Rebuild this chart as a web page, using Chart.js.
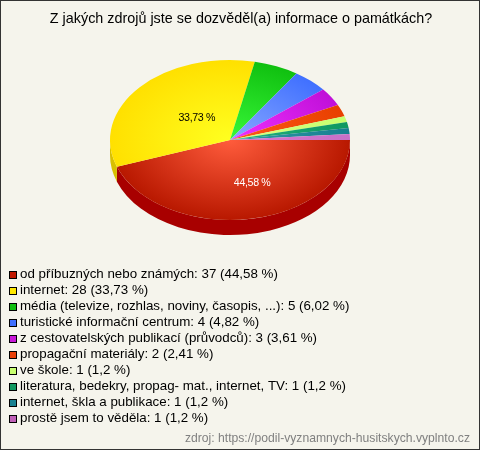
<!DOCTYPE html>
<html>
<head>
<meta charset="utf-8">
<title>Z jakých zdrojů</title>
<script src="https://cdn.jsdelivr.net/npm/chart.js@4"></script>
<style>
  html, body { margin: 0; padding: 0; background: #f5f4ec; }
  #chart { display: block; }
</style>
</head>
<body>
<canvas id="chart" width="480" height="450"></canvas>
<script>
const title = "Z jakých zdrojů jste se dozvěděl(a) informace o památkách?";
const source = "zdroj: https://podil-vyznamnych-husitskych.vyplnto.cz";

const categories = [
  "od příbuzných nebo známých",
  "internet",
  "média (televize, rozhlas, noviny, časopis, ...)",
  "turistické informační centrum",
  "z cestovatelských publikací (průvodců)",
  "propagační materiály",
  "ve škole",
  "literatura, bedekry, propag- mat., internet, TV",
  "internet, škla a publikace",
  "prostě jsem to věděla"
];
const counts = [37, 28, 5, 4, 3, 2, 1, 1, 1, 1];
const percents = ["44,58", "33,73", "6,02", "4,82", "3,61", "2,41", "1,2", "1,2", "1,2", "1,2"];

const legendColors = ["#c01800", "#ffe800", "#10c010", "#4070ff", "#c818d8", "#e84008", "#c8ff70", "#109860", "#188090", "#c060b8"];
const innerColors  = ["#ff5c3c", "#ffff20", "#38f838", "#88a8ff", "#f030ff", "#ff5818", "#d8ff80", "#20b080", "#3098a8", "#d878d0"];
const outerColors  = ["#b81800", "#ffe000", "#10c010", "#4070ff", "#c010d8", "#e84000", "#c8ff70", "#109860", "#188090", "#c870c8"];
const wallColors   = ["#a80000", "#d8c000", "#089008", "#3050c0", "#9010a0", "#b03000", "#98c050", "#087048", "#106070", "#905090"];

// pie is drawn as a circle by Chart.js, this squashes it into an ellipse
const SQUASH = 2 / 3;
const DEPTH = 15;

// slices that get a value label
const labelled = [
  { index: 0, color: "#ffffff" },
  { index: 1, color: "#000000" }
];

function squash(ctx, el) {
  ctx.translate(el.x, el.y);
  ctx.scale(1, SQUASH);
  ctx.translate(-el.x, -el.y);
}

const tiltPlugin = {
  id: "tilt",
  beforeDraw(chart) {
    const ctx = chart.ctx;
    ctx.save();
    ctx.fillStyle = "#f5f4ec";
    ctx.fillRect(0, 0, chart.width, chart.height);
    ctx.restore();
  },
  beforeDatasetsDraw(chart) {
    const ctx = chart.ctx;
    const arcs = chart.getDatasetMeta(0).data;
    // side wall, only the front half of the pie can be seen
    arcs.forEach((el, i) => {
      const a0 = Math.max(el.startAngle, 0);
      const a1 = Math.min(el.endAngle, Math.PI);
      if (a1 <= a0) return;
      const r = el.outerRadius;
      const ry = r * SQUASH;
      ctx.save();
      ctx.fillStyle = wallColors[i];
      ctx.beginPath();
      ctx.ellipse(el.x, el.y, r, ry, 0, a0, a1);
      ctx.ellipse(el.x, el.y + DEPTH, r, ry, 0, a1, a0, true);
      ctx.closePath();
      ctx.fill();
      ctx.restore();
    });
    ctx.save();
    squash(ctx, arcs[0]);
  },
  afterDatasetsDraw(chart) {
    chart.ctx.restore();
  },
  afterDraw(chart) {
    const ctx = chart.ctx;
    const arcs = chart.getDatasetMeta(0).data;
    ctx.save();

    ctx.font = "14.36px 'Liberation Sans', Arial, sans-serif";
    ctx.textAlign = "center";
    ctx.textBaseline = "middle";
    ctx.fillStyle = "#000000";
    ctx.fillText(title, 241, 19);

    ctx.font = "10.67px 'Liberation Sans', Arial, sans-serif";
    ctx.letterSpacing = "-0.35px";
    labelled.forEach(l => {
      const el = arcs[l.index];
      const mid = (el.startAngle + el.endAngle) / 2;
      const r = el.outerRadius * 0.5;
      ctx.fillStyle = l.color;
      ctx.fillText(percents[l.index] + " %",
        el.x + Math.cos(mid) * r + 12,
        el.y + Math.sin(mid) * r * SQUASH + 4);
    });
    ctx.letterSpacing = "0px";

    // legend, one row per answer
    ctx.font = "13.33px 'Liberation Sans', Arial, sans-serif";
    ctx.textAlign = "left";
    categories.forEach((name, i) => {
      const y = 274 + i * 16;
      ctx.fillStyle = legendColors[i];
      ctx.fillRect(9, y - 3, 8, 8);
      ctx.strokeStyle = "#000000";
      ctx.lineWidth = 1;
      ctx.strokeRect(9.5, y - 2.5, 7, 7);
      ctx.fillStyle = "#000000";
      ctx.fillText(name + ": " + counts[i] + " (" + percents[i] + " %)", 20, y);
    });

    ctx.font = "12.17px 'Liberation Sans', Arial, sans-serif";
    ctx.textAlign = "right";
    ctx.fillStyle = "#808080";
    ctx.fillText(source, 470, 439);

    // frame round the whole picture
    ctx.strokeStyle = "#333333";
    ctx.strokeRect(0.5, 0.5, chart.width - 1, chart.height - 1);
    ctx.restore();
  }
};

new Chart(document.getElementById("chart"), {
  type: "pie",
  data: {
    labels: categories,
    datasets: [{
      data: counts,
      borderWidth: 0,
      backgroundColor(c) {
        const chart = c.chart;
        const area = chart.chartArea;
        if (!area) return outerColors[c.dataIndex];
        const cx = (area.left + area.right) / 2;
        const cy = (area.top + area.bottom) / 2;
        const g = chart.ctx.createRadialGradient(cx, cy, 0, cx, cy, (area.right - area.left) / 2);
        g.addColorStop(0, innerColors[c.dataIndex]);
        g.addColorStop(1, outerColors[c.dataIndex]);
        return g;
      }
    }]
  },
  options: {
    responsive: false,
    animation: false,
    rotation: 90,
    layout: { padding: { left: 110, right: 130, top: 20, bottom: 190 } },
    plugins: {
      legend: { display: false },
      tooltip: { enabled: false },
      title: { display: false }
    }
  },
  plugins: [tiltPlugin]
});
</script>
</body>
</html>
